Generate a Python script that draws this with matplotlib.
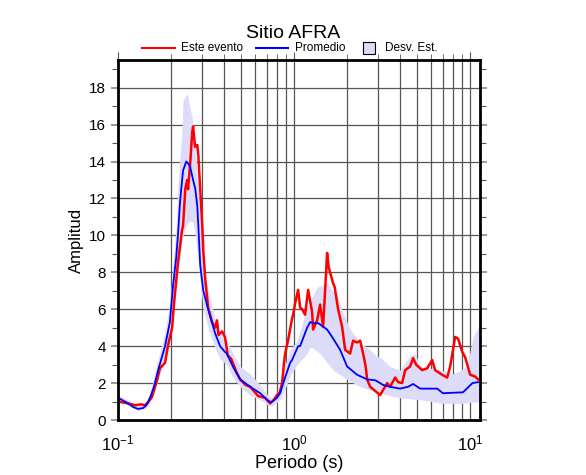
import numpy as np
import matplotlib
matplotlib.use("Agg")
import matplotlib.pyplot as plt
from matplotlib.lines import Line2D
from matplotlib.patches import Rectangle
from matplotlib.ticker import LogLocator, FixedLocator, NullFormatter

plt.rcParams['font.family'] = ['Liberation Sans', 'DejaVu Sans']

# Este evento
t_evt = [0.100, 0.114, 0.125, 0.135, 0.142, 0.148, 0.156, 0.167, 0.173, 0.185,
         0.192, 0.203, 0.208, 0.219, 0.231, 0.234, 0.241, 0.247, 0.250, 0.257,
         0.264, 0.267, 0.274, 0.282, 0.286, 0.293, 0.301, 0.305, 0.313, 0.325,
         0.342, 0.356, 0.365, 0.372, 0.390, 0.405, 0.420, 0.440, 0.470, 0.494,
         0.530, 0.563, 0.600, 0.625, 0.685, 0.730, 0.770, 0.800, 0.830, 0.855,
         0.875, 0.889, 0.924, 0.974, 0.987, 1.013, 1.054, 1.082, 1.110, 1.155,
         1.201, 1.266, 1.282, 1.351, 1.405, 1.461, 1.500, 1.540, 1.570, 1.601,
         1.666, 1.700, 1.778, 1.874, 1.949, 2.080, 2.164, 2.280, 2.371, 2.466,
         2.550, 2.599, 2.703, 3.081, 3.376, 3.511, 3.749, 3.899, 4.109, 4.273,
         4.561, 4.744, 4.930, 5.337, 5.697, 6.081, 6.324, 6.932, 7.400, 7.698,
         8.216, 8.545, 9.005, 9.366, 10.00, 10.68, 11.10]
a_evt = [1.0, 0.9, 0.8, 0.85, 0.8, 0.95, 1.25, 2.2, 2.8, 3.1,
         4.0, 5.0, 6.3, 8.5, 10.3, 10.5, 12.5, 13.0, 12.5, 13.9,
         15.6, 15.9, 14.8, 14.9, 14.3, 12.5, 10.5, 9.2, 7.6, 6.1,
         5.3, 5.0, 5.4, 4.6, 4.8, 4.5, 3.5, 3.3, 2.6, 2.2,
         1.9, 1.8, 1.5, 1.3, 1.2, 0.9, 1.1, 1.35, 1.5, 2.0,
         3.0, 3.6, 4.3, 5.5, 5.7, 6.3, 7.05, 6.1, 6.0, 5.7,
         7.05, 5.85, 4.9, 5.4, 6.25, 5.05, 7.0, 9.05, 8.3, 8.0,
         7.4, 7.2, 6.0, 5.05, 3.8, 3.6, 4.3, 4.2, 4.3, 3.6,
         2.9, 2.2, 1.8, 1.35, 2.0, 1.8, 2.3, 2.05, 2.0, 2.7,
         2.9, 3.35, 3.0, 2.7, 2.8, 3.25, 2.7, 2.45, 2.3, 2.9,
         4.5, 4.4, 3.7, 3.4, 2.45, 2.35, 2.2]

# Promedio
t_mean = [0.100, 0.112, 0.122, 0.130, 0.139, 0.145, 0.152, 0.160, 0.169, 0.185,
          0.197, 0.205, 0.214, 0.219, 0.225, 0.234, 0.244, 0.250, 0.257, 0.267,
          0.275, 0.282, 0.286, 0.293, 0.305, 0.325, 0.356, 0.380, 0.404, 0.415,
          0.449, 0.494, 0.563, 0.642, 0.700, 0.740, 0.800, 0.833, 0.889, 0.950,
          0.974, 1.054, 1.082, 1.186, 1.233, 1.300, 1.369, 1.540, 1.644, 1.826,
          2.000, 2.280, 2.600, 2.900, 3.200, 3.500, 4.000, 4.440, 4.740, 5.200,
          6.500, 7.000, 9.100, 10.30, 11.10]
a_mean = [1.2, 0.95, 0.7, 0.6, 0.65, 0.8, 1.2, 1.8, 2.7, 4.0,
          5.3, 7.2, 8.8, 10.0, 11.8, 13.5, 14.0, 13.9, 13.7, 13.0,
          12.5, 11.6, 10.5, 8.4, 7.0, 6.0, 4.7, 4.0, 3.7, 3.6,
          2.9, 2.2, 1.8, 1.45, 1.1, 0.95, 1.2, 1.45, 2.3, 3.1,
          3.25, 4.0, 4.0, 5.0, 5.3, 5.25, 5.25, 4.9, 4.5, 3.8,
          2.9, 2.45, 2.2, 2.15, 1.9, 1.8, 1.7, 1.8, 1.95, 1.7,
          1.7, 1.45, 1.5, 2.0, 2.05]

# Desv. Est. (upper / lower limits)
t_up = [0.100, 0.115, 0.130, 0.145, 0.152, 0.160, 0.169, 0.185, 0.197, 0.205,
        0.214, 0.220, 0.231, 0.234, 0.247, 0.255, 0.265, 0.275, 0.286, 0.293,
        0.305, 0.325, 0.356, 0.380, 0.415, 0.449, 0.494, 0.563, 0.642, 0.700,
        0.740, 0.800, 0.833, 0.889, 0.950, 1.040, 1.186, 1.351, 1.540, 1.756,
        1.898, 2.081, 2.371, 2.700, 2.900, 3.080, 3.510, 4.000, 4.560, 4.870,
        5.200, 6.750, 8.000, 9.600, 10.40, 11.10, 11.37]
a_up = [1.35, 1.05, 0.8, 1.0, 1.5, 2.3, 3.3, 4.8, 6.3, 8.3,
        10.5, 13.0, 15.7, 17.3, 17.7, 17.0, 16.3, 14.5, 12.5, 10.8,
        8.5, 7.0, 5.5, 4.8, 4.3, 3.6, 2.9, 2.5, 1.9, 1.4,
        1.2, 1.5, 1.9, 3.0, 3.8, 4.3, 6.1, 7.2, 7.4, 6.7,
        5.8, 4.9, 4.2, 3.8, 3.5, 3.4, 2.9, 2.7, 3.5, 3.6,
        2.9, 2.7, 2.5, 2.9, 4.5, 5.0, 5.1]

t_lo = [0.100, 0.115, 0.130, 0.145, 0.152, 0.160, 0.169, 0.185, 0.197, 0.205,
        0.219, 0.234, 0.247, 0.257, 0.267, 0.275, 0.286, 0.293, 0.305, 0.325,
        0.356, 0.380, 0.415, 0.449, 0.494, 0.563, 0.642, 0.700, 0.740, 0.800,
        0.833, 0.889, 0.950, 1.040, 1.186, 1.233, 1.405, 1.666, 2.000, 2.371,
        3.080, 4.000, 5.200, 7.000, 9.100, 11.10, 11.37]
a_lo = [1.05, 0.8, 0.5, 0.65, 1.0, 1.5, 2.2, 3.3, 4.3, 6.0,
        8.0, 10.0, 10.6, 10.8, 10.7, 10.0, 8.5, 7.5, 6.0, 5.0,
        3.9, 3.3, 3.0, 2.3, 1.8, 1.35, 1.1, 0.85, 0.75, 0.95,
        1.1, 1.7, 2.4, 3.0, 3.6, 4.0, 3.6, 2.7, 2.2, 1.8,
        1.45, 1.2, 1.1, 0.9, 0.9, 1.0, 1.0]

band_color = '#dcdcf8'

fig = plt.figure(figsize=(5.86, 4.75), dpi=100)
ax = fig.add_axes([118 / 586, 55 / 475, 362 / 586, 360 / 475])

# common grid for the band polygon
tb = np.union1d(t_up, t_lo)
ub = np.interp(np.log10(tb), np.log10(t_up), a_up)
lb = np.interp(np.log10(tb), np.log10(t_lo), a_lo)
ax.fill_between(tb, lb, ub, color=band_color, lw=0, zorder=2)

ax.plot(t_mean, a_mean, color='#0000ff', lw=1.3, zorder=4)
ax.plot(t_evt, a_evt, color='#ff0000', lw=1.8, zorder=3)

ax.set_xscale('log')
ax.set_xlim(0.1, 11.37)
ax.set_ylim(0, 19.5)

ax.xaxis.set_major_locator(LogLocator(base=10, numticks=10))
ax.xaxis.set_minor_locator(LogLocator(base=10, subs=np.arange(2, 10), numticks=10))
ax.xaxis.set_minor_formatter(NullFormatter())
ax.yaxis.set_major_locator(FixedLocator(np.arange(0, 19, 2)))
ax.yaxis.set_minor_locator(FixedLocator(np.arange(1, 20, 2)))

ax.grid(True, which='both', axis='x', color='#555555', lw=0.9, zorder=1)
ax.grid(True, which='major', axis='y', color='#555555', lw=0.9, zorder=1)

ax.tick_params(axis='x', which='both', direction='out', bottom=False, top=True,
               labelbottom=True, labelsize=12, color='#555555')
ax.tick_params(axis='x', which='major', length=6, pad=4)
ax.tick_params(axis='x', which='minor', length=4)
ax.tick_params(axis='y', which='both', direction='out', left=True, right=True,
               labelsize=11, color='#888888')
ax.tick_params(axis='y', which='major', length=5, width=1.2)
ax.tick_params(axis='y', which='minor', length=4, width=0.8, color='#555555')

for s in ax.spines.values():
    s.set_linewidth(2.0)
    s.set_zorder(6)

ax.set_xlabel('Periodo (s)', fontsize=13, labelpad=1)
ax.set_ylabel('Amplitud', fontsize=12, labelpad=4)
fig.text(0.5, 1 - 33 / 475, 'Sitio AFRA', ha='center', va='center', fontsize=14)

# legend row
ly = 1 - 48 / 475
fig.add_artist(Line2D([142 / 586, 175 / 586], [ly, ly], color='#ff0000', lw=1.5))
fig.text(181 / 586, ly, 'Este evento', va='center', fontsize=8.5)
fig.add_artist(Line2D([256 / 586, 288 / 586], [ly, ly], color='#0000ff', lw=1.5))
fig.text(295 / 586, ly, 'Promedio', va='center', fontsize=8.5)
fig.add_artist(Rectangle((363 / 586, ly - 6 / 475), 12 / 586, 12 / 475,
                         facecolor=band_color, edgecolor='black', lw=0.8))
fig.text(385 / 586, ly, 'Desv. Est.', va='center', fontsize=8.5)

fig.savefig('out.png', dpi=100)
